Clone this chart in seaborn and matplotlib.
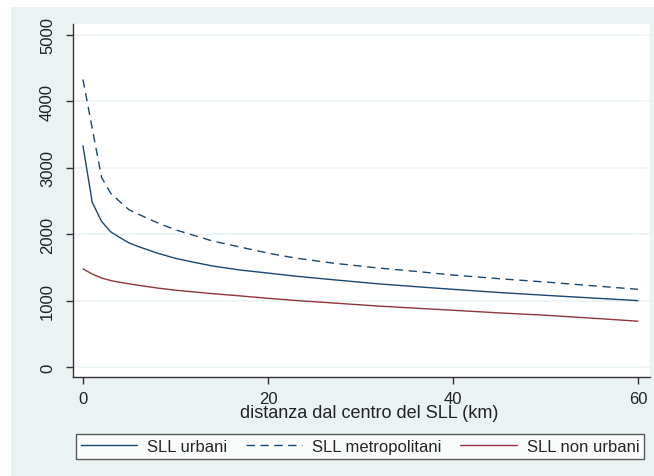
import numpy as np
import pandas as pd
import matplotlib
matplotlib.use("Agg")
import matplotlib.pyplot as plt
from matplotlib.patches import Rectangle
import seaborn as sns

# distance from SLL centre (km) and estimated density curves
distanza = [0, 1, 2, 3, 4, 5, 6, 8, 10, 12, 14, 17, 20, 23, 27, 32, 36, 40, 45, 50, 55, 60]
urbani = [3330, 2480, 2195, 2035, 1948, 1868, 1813, 1717, 1636, 1577, 1522, 1460,
          1415, 1368, 1315, 1252, 1210, 1170, 1122, 1080, 1040, 1000]
non_urbani = [1478, 1400, 1340, 1302, 1275, 1252, 1231, 1190, 1157, 1131, 1105, 1071,
              1035, 1002, 965, 917, 886, 855, 815, 780, 736, 690]
metro_dist = [0, 2, 3, 4, 5, 6, 8, 10, 12, 14, 17, 20, 23, 27, 32, 36, 40, 45, 50, 55, 60]
metropolitani = [4330, 2857, 2615, 2488, 2365, 2300, 2175, 2066, 1982, 1898, 1806,
                 1715, 1640, 1565, 1490, 1440, 1385, 1330, 1280, 1225, 1170]
labels = ["SLL urbani", "SLL metropolitani", "SLL non urbani"]
xticks = [0, 20, 40, 60]
yticks = [0, 1000, 2000, 3000, 4000, 5000]

sns.set_style("white")
plt.rcParams["font.family"] = ["Liberation Sans", "DejaVu Sans"]

bg = "#eaf2f3"
navy = "#1a476f"
maroon = "#90353b"
fs = 12

fig = plt.figure(figsize=(6.54, 4.77), dpi=100)
fig.patch.set_facecolor("white")
fig.patches.append(Rectangle((11 / 654, 0), 1, (477 - 8) / 477, transform=fig.transFigure,
                             facecolor=bg, edgecolor="none", zorder=-10))
ax = fig.add_axes([73 / 654, 1 - 378 / 477, (650 - 73) / 654, (378 - 25) / 477])

sns.lineplot(x=distanza, y=urbani, ax=ax, color=navy, lw=1.0, label=labels[0])
sns.lineplot(x=metro_dist, y=metropolitani, ax=ax, color=navy, lw=1.0,
             label=labels[1], dashes=False)
ax.lines[-1].set_dashes([6, 4])
sns.lineplot(x=distanza, y=non_urbani, ax=ax, color=maroon, lw=1.0, label=labels[2])

ax.set_xlim(-1.08, 61.3)
ax.set_ylim(-150, 5165)
ax.set_xticks(xticks)
ax.set_yticks(yticks)
ax.set_yticklabels([str(v) for v in yticks], rotation=90, va="center")
ax.tick_params(axis="both", direction="out", length=5, width=1, color="#333333",
               labelsize=fs, labelcolor="#222222")
ax.tick_params(axis="x", bottom=True, pad=5)
ax.tick_params(axis="y", left=True, pad=8)
for yv in yticks:
    ax.axhline(yv, color=bg, lw=1.2, zorder=0)
for s in ["top", "right"]:
    ax.spines[s].set_visible(False)
for s in ["left", "bottom"]:
    ax.spines[s].set_color("#333333")
    ax.spines[s].set_linewidth(1.0)
ax.set_xlabel("distanza dal centro del SLL (km)", fontsize=13, color="#222222", labelpad=-1)
ax.xaxis.label.set_x((369 - 73) / 577)
ax.set_ylabel("")

handles, labs = ax.get_legend_handles_labels()
ax.get_legend().remove()
leg = fig.legend(handles, labs, ncol=3, loc="center",
                 bbox_to_anchor=(360 / 654, 1 - 447.5 / 477), fontsize=fs,
                 frameon=True, fancybox=False, edgecolor="#333333",
                 handlelength=3.4, columnspacing=1.1, borderpad=0.3,
                 handletextpad=0.6, borderaxespad=0)
leg.get_frame().set_linewidth(1.0)
leg.get_frame().set_facecolor("white")

fig.savefig("out.png", dpi=100, facecolor=fig.get_facecolor())
